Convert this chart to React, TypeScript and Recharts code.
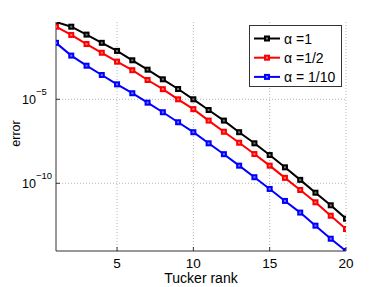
import { CartesianGrid, Legend, Line, LineChart, XAxis, YAxis } from "recharts";

const ranks = [1, 2, 3, 4, 5, 6, 7, 8, 9, 10, 11, 12, 13, 14, 15, 16, 17, 18, 19, 20];

const alpha1 = [
  4.0e-1, 2.1e-1, 7.1e-2, 2.3e-2, 7.6e-3, 2.1e-3, 5.8e-4, 1.55e-4, 4.1e-5, 1.0e-5,
  2.3e-6, 5.4e-7, 1.1e-7, 2.4e-8, 4.8e-9, 8.9e-10, 1.6e-10, 2.75e-11, 4.9e-12, 7.8e-13,
];
const alphaHalf = [
  2.1e-1, 6.8e-2, 1.95e-2, 5.9e-3, 1.74e-3, 5.4e-4, 1.41e-4, 4.0e-5, 1.0e-5, 2.6e-6,
  5.4e-7, 1.17e-7, 2.6e-8, 5.5e-9, 1.12e-9, 2.1e-10, 4.0e-11, 7.4e-12, 1.17e-12, 1.9e-13,
];
const alphaTenth = [
  2.3e-2, 4.0e-3, 1.0e-3, 2.8e-4, 7.8e-5, 2.3e-5, 6.3e-6, 1.7e-6, 4.3e-7, 1.1e-7,
  2.4e-8, 5.4e-9, 1.12e-9, 2.3e-10, 4.6e-11, 8.9e-12, 1.8e-12, 3.0e-13, 5.0e-14, 9.3e-15,
];

const xTicks = [5, 10, 15, 20];
const yTicks = [1e-5, 1e-10];

const series = [
  { key: "a1", name: "\u03b1 =1", color: "#000000", values: alpha1 },
  { key: "a2", name: "\u03b1 =1/2", color: "#ff0000", values: alphaHalf },
  { key: "a3", name: "\u03b1 = 1/10", color: "#0000ff", values: alphaTenth },
];

const data = ranks.map((r, i) => ({
  rank: r,
  a1: alpha1[i],
  a2: alphaHalf[i],
  a3: alphaTenth[i],
}));

const FONT = "'Liberation Sans', Arial, Helvetica, sans-serif";
const FRAME = "#333";
const TICK = 4;

const squareDot = (color: string) => (p: any) => {
  const { cx, cy, index } = p;
  if (cx == null || cy == null) return <g key={index} />;
  return (
    <g key={index}>
      <rect x={cx - 3} y={cy - 3} width={6} height={6} fill={color} />
      <rect x={cx - 1} y={cy - 1} width={2} height={2} fill="#fff" fillOpacity={0.45} />
    </g>
  );
};

function BottomTick({ x, y, payload }: any) {
  return (
    <g>
      <line x1={x} x2={x} y1={y} y2={y - TICK} stroke={FRAME} />
      <text x={x} y={y + 16.5} textAnchor="middle" fontSize={13.5} fontFamily={FONT} fill="#000">
        {payload.value}
      </text>
    </g>
  );
}

function TopTick({ x, y }: any) {
  return <line x1={x} x2={x} y1={y} y2={y + TICK} stroke={FRAME} />;
}

function LeftTick({ x, y, payload }: any) {
  const exp = Math.round(Math.log10(payload.value));
  return (
    <g>
      <line x1={x} x2={x + TICK} y1={y} y2={y} stroke={FRAME} />
      <text x={x - 34} y={y + 4.5} fontSize={12.5} fontFamily={FONT} fill="#000">
        10
        <tspan dy={-8.5} fontSize={9.5}>
          {"\u2212" + Math.abs(exp)}
        </tspan>
      </text>
    </g>
  );
}

function RightTick({ x, y }: any) {
  return <line x1={x} x2={x - TICK} y1={y} y2={y} stroke={FRAME} />;
}

function LegendBox() {
  return (
    <svg width={93} height={62} style={{ display: "block" }}>
      <rect x={0.5} y={0.5} width={92} height={61} fill="#fff" stroke={FRAME} />
      {series.map((s, i) => {
        const cy = 13.5 + i * 19.2;
        return (
          <g key={s.key}>
            <line x1={5} x2={31} y1={cy} y2={cy} stroke={s.color} strokeWidth={2} />
            <rect x={15} y={cy - 3} width={6} height={6} fill={s.color} />
            <rect x={17} y={cy - 1} width={2} height={2} fill="#fff" fillOpacity={0.45} />
            <text x={35} y={cy + 5} fontSize={14} fontFamily={FONT} fill="#000">
              {s.name}
            </text>
          </g>
        );
      })}
    </svg>
  );
}

export default function App() {
  return (
    <div style={{ position: "absolute", left: 0, top: 0, background: "#fff" }}>
      <LineChart
        width={382}
        height={287}
        data={data}
        margin={{ top: 22, right: 36, bottom: 0, left: 0 }}
      >
        <CartesianGrid
          stroke="#b5b5b5"
          strokeDasharray="1 2"
          horizontalValues={yTicks}
          verticalValues={xTicks}
        />
        <XAxis
          dataKey="rank"
          type="number"
          domain={[1, 20]}
          ticks={xTicks}
          allowDataOverflow
          height={36}
          tickSize={0}
          tickMargin={0}
          tickLine={false}
          axisLine={{ stroke: FRAME }}
          tick={<BottomTick />}
          label={{
            content: ({ viewBox }: any) => (
              <text
                x={viewBox.x + viewBox.width / 2}
                y={viewBox.y + 32}
                textAnchor="middle"
                fontSize={14}
                fontFamily={FONT}
                fill="#000"
              >
                Tucker rank
              </text>
            ),
          }}
        />
        <XAxis
          xAxisId="top"
          dataKey="rank"
          type="number"
          orientation="top"
          domain={[1, 20]}
          ticks={xTicks}
          allowDataOverflow
          height={0}
          tickSize={0}
          tickMargin={0}
          tickLine={false}
          axisLine={{ stroke: FRAME }}
          tick={<TopTick />}
        />
        <YAxis
          scale="log"
          type="number"
          domain={[9.3e-15, 4.0e-1]}
          ticks={yTicks}
          allowDataOverflow
          width={56}
          tickSize={0}
          tickMargin={0}
          tickLine={false}
          axisLine={{ stroke: FRAME }}
          tick={<LeftTick />}
          label={{
            content: ({ viewBox }: any) => {
              const cx = 19.5;
              const cy = viewBox.y + viewBox.height / 2 - 3;
              return (
                <text
                  x={cx}
                  y={cy}
                  transform={`rotate(-90 ${cx} ${cy})`}
                  textAnchor="middle"
                  fontSize={12.5}
                  fontFamily={FONT}
                  fill="#000"
                >
                  error
                </text>
              );
            },
          }}
        />
        <YAxis
          yAxisId="right"
          orientation="right"
          scale="log"
          type="number"
          domain={[9.3e-15, 4.0e-1]}
          ticks={yTicks}
          allowDataOverflow
          width={0}
          tickSize={0}
          tickMargin={0}
          tickLine={false}
          axisLine={{ stroke: FRAME }}
          tick={<RightTick />}
        />
        {series.map((s) => (
          <Line
            key={s.key}
            dataKey={s.key}
            name={s.name}
            stroke={s.color}
            strokeWidth={2}
            dot={squareDot(s.color)}
            activeDot={false}
            isAnimationActive={false}
          />
        ))}
        <Legend
          layout="vertical"
          align="center"
          verticalAlign="middle"
          width={93}
          height={62}
          content={() => <LegendBox />}
          wrapperStyle={{ left: 249, top: 25, width: 93, height: 62 }}
        />
      </LineChart>
    </div>
  );
}
